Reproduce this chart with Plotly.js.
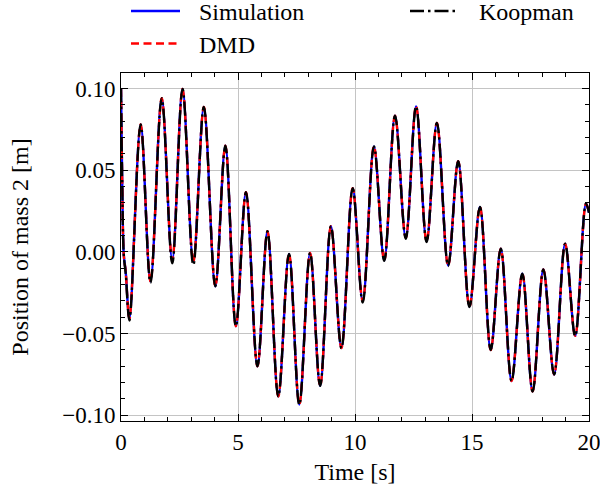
<!DOCTYPE html>
<html>
<head>
<meta charset="utf-8">
<script src="https://cdn.plot.ly/plotly-3.0.1.min.js"></script>
<style>
  html, body { margin: 0; padding: 0; background: #fff; }
  #chart { width: 600px; height: 489px; }
</style>
</head>
<body>
<div id="chart"></div>
<script>
// Time stamps [s] of the points (start, then each turning point)
const time = [0, 0.05, 0.12, 0.2, 0.36, 0.84, 1.26, 1.74, 2.19, 2.63, 3.09, 3.54, 4.03, 4.46,
  4.91, 5.34, 5.83, 6.26, 6.72, 7.18, 7.62, 8.08, 8.51, 8.97, 9.42, 9.90, 10.33, 10.81,
  11.25, 11.71, 12.17, 12.61, 13.06, 13.50, 13.98, 14.41, 14.89, 15.34, 15.80, 16.23,
  16.69, 17.15, 17.59, 18.05, 18.51, 18.98, 19.41, 19.87, 20.0];

// Position of mass 2 [m]
const simulation = [0.100, 0.045, -0.002, -0.012, -0.041, 0.078, -0.018, 0.094, -0.005, 0.0998,
  -0.006, 0.0887, -0.021, 0.065, -0.0455, 0.0365, -0.070, 0.0126, -0.0884, -0.0012, -0.0934,
  -0.0006, -0.082, 0.0157, -0.0588, 0.039, -0.030, 0.0646, -0.0051, 0.0834, 0.0086, 0.0891,
  0.0065, 0.079, -0.0084, 0.0555, -0.0335, 0.0275, -0.060, 0.002, -0.079, -0.0133, -0.0853,
  -0.0108, -0.075, 0.005, -0.0514, 0.0295, 0.024];

const dmd = [0.100, 0.045, -0.002, -0.012, -0.041, 0.078, -0.018, 0.094, -0.005, 0.0998,
  -0.006, 0.0887, -0.021, 0.065, -0.0455, 0.0365, -0.070, 0.0126, -0.0884, -0.0012, -0.0934,
  -0.0006, -0.082, 0.0157, -0.0588, 0.039, -0.030, 0.0646, -0.0051, 0.0834, 0.0086, 0.0891,
  0.0065, 0.079, -0.0084, 0.0555, -0.0335, 0.0275, -0.060, 0.002, -0.079, -0.0133, -0.0853,
  -0.0108, -0.075, 0.005, -0.0514, 0.0295, 0.024];

const koopman = [0.100, 0.045, -0.002, -0.013, -0.042, 0.078, -0.019, 0.094, -0.007, 0.0998,
  -0.008, 0.0887, -0.021, 0.065, -0.0455, 0.0365, -0.070, 0.0126, -0.0886, -0.0012, -0.0936,
  -0.0006, -0.082, 0.0157, -0.0590, 0.039, -0.031, 0.0646, -0.0055, 0.0834, 0.0080, 0.0891,
  0.0060, 0.079, -0.0086, 0.0555, -0.0337, 0.0275, -0.060, 0.002, -0.079, -0.0133, -0.0855,
  -0.0108, -0.075, 0.005, -0.0516, 0.0295, 0.024];

const seriesNames = ["Simulation", "DMD", "Koopman"];
const xTicks = [0, 5, 10, 15, 20];
const yTicks = [-0.10, -0.05, 0.00, 0.05, 0.10];

const FONT = "Liberation Serif, DejaVu Serif, serif";
const FS = 24;     // titles and legend
const FS_TICK = 23;

const styles = [
  { color: "#0000ff", width: 2.4, dash: "solid" },
  { color: "#ff0000", width: 2.4, dash: "8px,4.5px" },
  { color: "#000000", width: 2.4, dash: "14px,4px,2.5px,4px" }
];
const seriesData = [simulation, dmd, koopman];

const traces = seriesData.map((ys, i) => ({
  x: time, y: ys, name: seriesNames[i], type: "scatter", mode: "lines",
  line: { color: styles[i].color, width: styles[i].width, dash: styles[i].dash, shape: "spline", smoothing: 1 },
  showlegend: false
}));

// Manual legend (2 columns, above the axes), positions in paper units
const plotL = 121, plotR = 589, plotT = 73, plotB = 421;
const px2x = p => (p - plotL) / (plotR - plotL);
const px2y = p => (plotB - p) / (plotB - plotT);
const legendSlots = [
  { x0: 131, x1: 180, y: 11, tx: 197 },   // Simulation
  { x0: 131, x1: 180, y: 43.5, tx: 197 }, // DMD
  { x0: 410, x1: 458, y: 11, tx: 477 }    // Koopman
];
const shapes = legendSlots.map((s, i) => ({
  type: "line", xref: "paper", yref: "paper",
  x0: px2x(s.x0), x1: px2x(s.x1), y0: px2y(s.y), y1: px2y(s.y),
  line: { color: styles[i].color, width: styles[i].width, dash: styles[i].dash }
}));
const annotations = legendSlots.map((s, i) => ({
  xref: "paper", yref: "paper", x: px2x(s.tx), y: px2y(s.y + 1),
  xanchor: "left", yanchor: "middle", showarrow: false, text: seriesNames[i],
  font: { family: FONT, size: FS, color: "#000" }
}));

const axisCommon = {
  showline: true, linecolor: "#000", linewidth: 1, mirror: "allticks",
  ticks: "inside", ticklen: 7, tickwidth: 1, tickcolor: "#000",
  showgrid: true, gridcolor: "#c4c4c4", gridwidth: 1, zeroline: false,
  ticklabeloverflow: "allow",
  tickfont: { family: FONT, size: FS_TICK, color: "#000" }
};

const layout = {
  width: 600, height: 489,
  paper_bgcolor: "#fff", plot_bgcolor: "#fff",
  margin: { l: plotL, r: 600 - plotR, t: plotT, b: 489 - plotB },
  font: { family: FONT, size: FS, color: "#000" },
  showlegend: false,
  shapes: shapes,
  annotations: annotations,
  xaxis: Object.assign({}, axisCommon, {
    range: [0, 20], tickvals: xTicks, automargin: false,
    minor: { ticks: "inside", dtick: 1, tick0: 0, ticklen: 4, tickcolor: "#000", showgrid: false },
    title: { text: "Time [s]", font: { family: FONT, size: FS, color: "#000" }, standoff: 9 }
  }),
  yaxis: Object.assign({}, axisCommon, {
    range: [-0.1035, 0.1095], tickvals: yTicks, tickformat: ".2f", automargin: false,
    minor: { ticks: "inside", dtick: 0.01, tick0: 0, ticklen: 4, tickcolor: "#000", showgrid: false },
    title: { text: "Position of mass 2 [m]", font: { family: FONT, size: FS, color: "#000" }, standoff: 26 }
  })
};

Plotly.newPlot("chart", traces, layout, { displayModeBar: false, staticPlot: true });
</script>
</body>
</html>
